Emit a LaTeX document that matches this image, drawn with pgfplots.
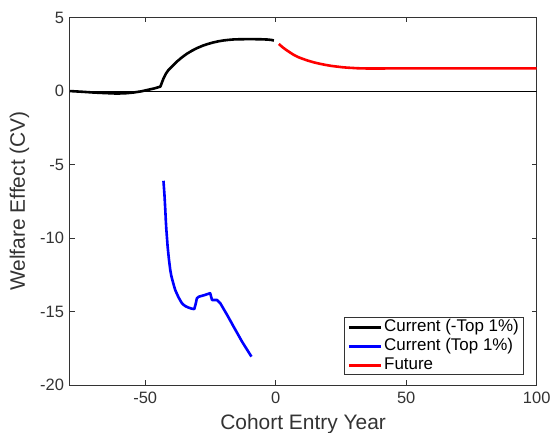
\documentclass[border=0pt]{standalone}
\usepackage{pgfplots}
\pgfplotsset{compat=1.18}
\usepackage{fontspec}
\setmainfont{Liberation Sans}

% Welfare effect (CV) by cohort entry year
\pgfplotstableread{
x y
-78.8 0.00
-74.0 -0.05
-69.8 -0.10
-65.0 -0.14
-60.9 -0.17
-57.5 -0.15
-54.5 -0.10
-51.5 -0.02
-49.3 0.07
-46.5 0.18
-44.2 0.30
-43.5 0.62
-43.0 0.85
-42.0 1.20
-41.0 1.45
-40.0 1.62
-38.0 1.98
-36.0 2.28
-34.0 2.54
-32.0 2.75
-30.0 2.93
-28.0 3.08
-26.0 3.20
-24.0 3.30
-22.0 3.38
-20.0 3.44
-18.0 3.48
-16.0 3.51
-14.0 3.52
-10.0 3.53
-5.7 3.52
-3.0 3.50
-1.5 3.47
-0.7 3.43
}\currentrest

\pgfplotstableread{
x y
-43.0 -6.10
-42.8 -6.60
-42.6 -7.10
-42.3 -8.08
-42.1 -8.80
-41.9 -9.40
-41.6 -10.10
-41.4 -10.58
-40.9 -11.45
-40.4 -12.16
-40.0 -12.55
-39.5 -12.90
-39.0 -13.22
-38.5 -13.52
-37.8 -13.80
-37.2 -14.03
-36.5 -14.25
-35.9 -14.43
-35.2 -14.54
-34.6 -14.62
-33.4 -14.72
-32.2 -14.79
-31.2 -14.82
-30.7 -14.50
-30.2 -14.09
-29.5 -13.98
-27.5 -13.88
-25.1 -13.74
-24.4 -14.20
-22.5 -14.20
-21.2 -14.43
-18.6 -15.22
-16.1 -16.02
-12.9 -17.03
-9.3 -18.05
}\currenttop

\pgfplotstableread{
x y
1.2 3.20
2.5 3.00
4.0 2.80
5.5 2.62
7.0 2.45
8.7 2.30
10.5 2.18
12.5 2.06
14.6 1.95
16.8 1.86
19.0 1.78
21.3 1.71
23.6 1.66
25.5 1.62
27.5 1.59
29.5 1.57
31.3 1.55
36.0 1.53
45.0 1.54
60.0 1.54
80.0 1.54
100.0 1.54
}\future

\begin{document}
\begin{tikzpicture}
\begin{axis}[
  name=ax,
  scale only axis,
  width=467.2bp, height=367.8bp,
  xmin=-79, xmax=100,
  ymin=-20, ymax=5,
  xtick={-50,0,50,100},
  ytick={-20,-15,-10,-5,0,5},
  tick align=inside,
  major tick length=5bp,
  minor tick num=0,
  axis line style={black!80, line width=0.6bp},
  every tick/.style={black!80, line width=0.6bp},
  tick label style={font=\fontsize{16.5}{18}\selectfont, text=black!80},
  /pgf/number format/assume math mode=true,
  xticklabel style={yshift=-3bp},
  yticklabel style={xshift=-2bp},
  xlabel={Cohort Entry Year},
  ylabel={Welfare Effect (CV)},
  label style={font=\fontsize{21}{24}\selectfont, text=black!80},
  xlabel style={at={(axis description cs:0.5,-0.121)}, anchor=base},
  ylabel style={at={(axis description cs:-0.0953,0.501)}, anchor=base, rotate=0},
  legend cell align=left,
  legend style={
    at={(axis description cs:0.973,0.028)}, anchor=south east,
    draw=black!80, line width=0.6bp,
    font=\fontsize{17}{19}\selectfont,
    inner xsep=3bp, inner ysep=1.5bp,
    row sep=3bp,
    nodes={inner xsep=2bp, inner ysep=0bp, text height=12.5bp, text depth=3.5bp},
  },
  legend image code/.code={\draw[#1, line width=2.6bp] (0bp,0bp) -- (32bp,0bp);},
]
\addplot[black, line width=0.6bp, forget plot] coordinates {(-79,0) (100,0)};
\addplot[black, line width=2.6bp, line join=round] table[x=x, y=y] {\currentrest};
\addlegendentry{Current (-Top 1\%)}
\addplot[blue, line width=2.6bp, line join=round] table[x=x, y=y] {\currenttop};
\addlegendentry{Current (Top 1\%)}
\addplot[red, line width=2.6bp, line join=round] table[x=x, y=y] {\future};
\addlegendentry{Future}
\end{axis}
\pgfresetboundingbox
\path ([xshift=-69.5bp,yshift=-47.7bp]ax.south west) rectangle ([xshift=16.3bp,yshift=17.5bp]ax.north east);
\end{tikzpicture}
\end{document}
